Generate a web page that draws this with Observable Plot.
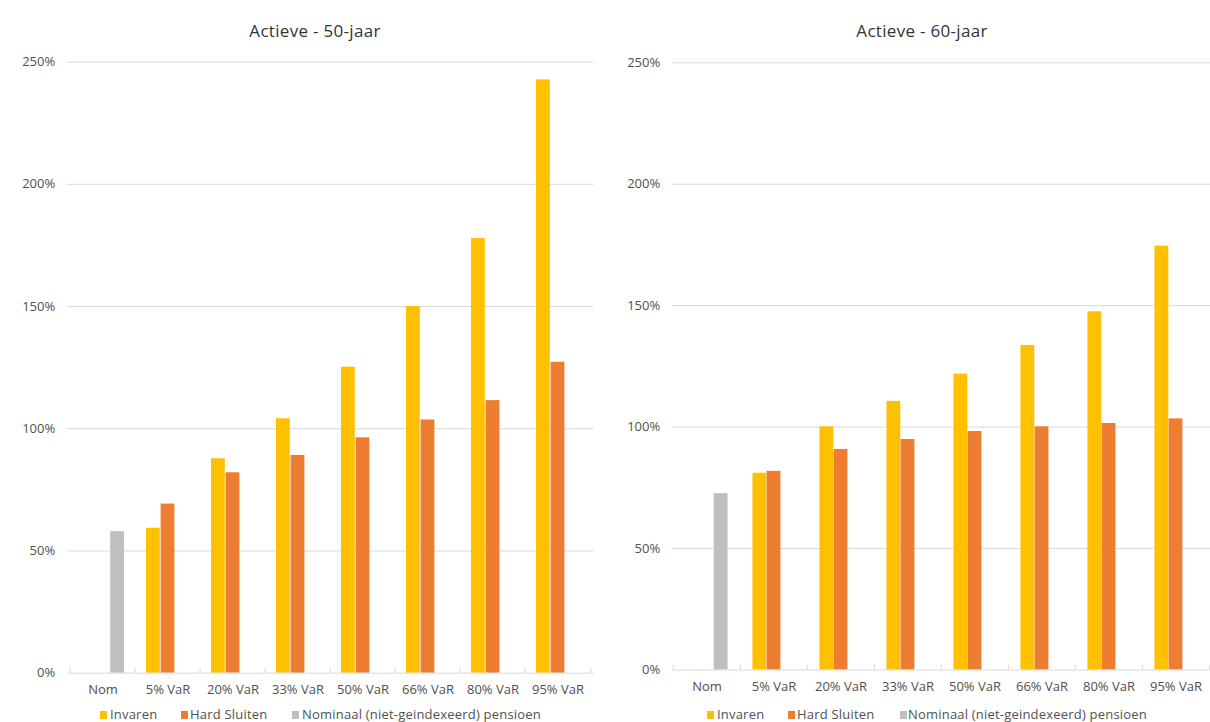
<!DOCTYPE html>
<html>
<head>
<meta charset="utf-8">
<script src="https://cdn.jsdelivr.net/npm/d3@7"></script>
<script src="https://cdn.jsdelivr.net/npm/@observablehq/plot@0.6"></script>
<style>
  html, body { margin: 0; padding: 0; background: #fff; }
  #page { position: relative; width: 1210px; height: 722px; overflow: hidden; font-family: "Open Sans", sans-serif; color: #505050; background: #fff; }
  .panel { position: absolute; top: 0; z-index: 0; }
  .title { position: absolute; top: 19px; width: 300px; text-align: center; font-size: 17px; letter-spacing: 0.3px; line-height: 24px; color: #333; z-index: 2; }
  .legend { position: absolute; top: 706px; height: 16px; font-size: 13px; letter-spacing: 0.2px; line-height: 16px; white-space: nowrap; z-index: 2; }
  .legend span.key { position: absolute; top: 5px; width: 7px; height: 8px; }
  .legend span.lab { position: absolute; top: 0; }
</style>
</head>
<body>
<div id="page">
  <div id="left" class="panel" style="left:0px"></div>
  <div id="right" class="panel" style="left:605px"></div>
  <div class="title" style="left:165px">Actieve - 50-jaar</div>
  <div class="title" style="left:772px">Actieve - 60-jaar</div>
  <div id="legendLeft" class="legend" style="left:0px"></div>
  <div id="legendRight" class="legend" style="left:605px"></div>
</div>
<script>
// Categories on the x axis
const categories = ["Nom", "5% VaR", "20% VaR", "33% VaR", "50% VaR", "66% VaR", "80% VaR", "95% VaR"];

// Series (order = order of the bars inside a group)
const seriesNames = ["Invaren", "Hard Sluiten", "Nominaal (niet-geindexeerd) pensioen"];
const seriesColors = ["#FFC000", "#ED7D31", "#BFBFBF"];

// Y axis ticks (percent)
const yTicks = [0, 50, 100, 150, 200, 250];

// Actieve - 50-jaar (percent)
const invaren50     = [null, 59.3, 87.7, 104.1, 125.2, 150.0, 177.8, 242.7];
const hardSluiten50 = [null, 69.2, 82.0, 89.1, 96.3, 103.6, 111.5, 127.2];
const nominaal50    = [57.9, null, null, null, null, null, null, null];

// Actieve - 60-jaar (percent)
const invaren60     = [null, 81.0, 100.1, 110.6, 121.8, 133.6, 147.5, 174.5];
const hardSluiten60 = [null, 81.8, 90.8, 94.9, 98.2, 100.1, 101.5, 103.4];
const nominaal60    = [72.6, null, null, null, null, null, null, null];

function toRows(inv, hs, nom) {
  const rows = [];
  categories.forEach((c, i) => {
    [inv, hs, nom].forEach((vals, s) => {
      if (vals[i] != null) rows.push({category: c, series: s, value: vals[i]});
    });
  });
  return rows;
}

function panel({data, width, height, marginLeft, marginRight, marginTop, marginBottom, barFrac}) {
  const step = (width - marginLeft - marginRight) / categories.length;
  const w = step * barFrac;
  // three slots per category, centred on the band
  const bars = seriesNames.map((name, s) => {
    const left = step / 2 + (s - 1.5) * w;
    return Plot.barY(data.filter(d => d.series === s), {
      x: "category", y: "value", fill: seriesColors[s],
      insetLeft: left, insetRight: step - left - w
    });
  });
  const grid = "#d9d9d9";
  return Plot.plot({
    width, height, marginLeft, marginRight, marginTop, marginBottom,
    style: {fontFamily: "Open Sans, sans-serif", fontSize: "13px", color: "#505050", background: "transparent", overflow: "visible"},
    x: {type: "band", domain: categories, padding: 0, tickSize: 0, tickPadding: 12, label: null},
    y: {domain: [0, 250], ticks: yTicks, tickFormat: d => d + "%", tickSize: 0, tickPadding: 12, label: null},
    marks: [
      Plot.ruleY(yTicks.slice(1), {stroke: grid}),
      ...bars,
      Plot.ruleY([0], {stroke: grid}),
      Plot.ruleX(categories, {x: d => d, dx: -step / 2, y1: 0, y2: 0, insetTop: -5, stroke: grid}),
      Plot.ruleX(categories.slice(-1), {x: d => d, dx: step / 2, y1: 0, y2: 0, insetTop: -5, stroke: grid})
    ]
  });
}

document.getElementById("left").append(panel({
  data: toRows(invaren50, hardSluiten50, nominaal50),
  width: 600, height: 700, marginLeft: 66.7, marginRight: 6.7, marginTop: 61.6, marginBottom: 27.3, barFrac: 0.222
}));
document.getElementById("right").append(panel({
  data: toRows(invaren60, hardSluiten60, nominaal60),
  width: 605, height: 700, marginLeft: 66.7, marginRight: 0, marginTop: 62.3, marginBottom: 30.5, barFrac: 0.21
}));

// Legends
function legend(id, offsets) {
  const el = document.getElementById(id);
  seriesNames.forEach((name, s) => {
    const key = document.createElement("span");
    key.className = "key";
    key.style.left = offsets[s][0] + "px";
    key.style.background = seriesColors[s];
    const lab = document.createElement("span");
    lab.className = "lab";
    lab.style.left = offsets[s][1] + "px";
    lab.textContent = name;
    el.append(key, lab);
  });
}
legend("legendLeft", [[100, 110], [181, 190], [292, 302]]);
legend("legendRight", [[102, 112], [183, 192], [295, 303]]);
</script>
</body>
</html>
